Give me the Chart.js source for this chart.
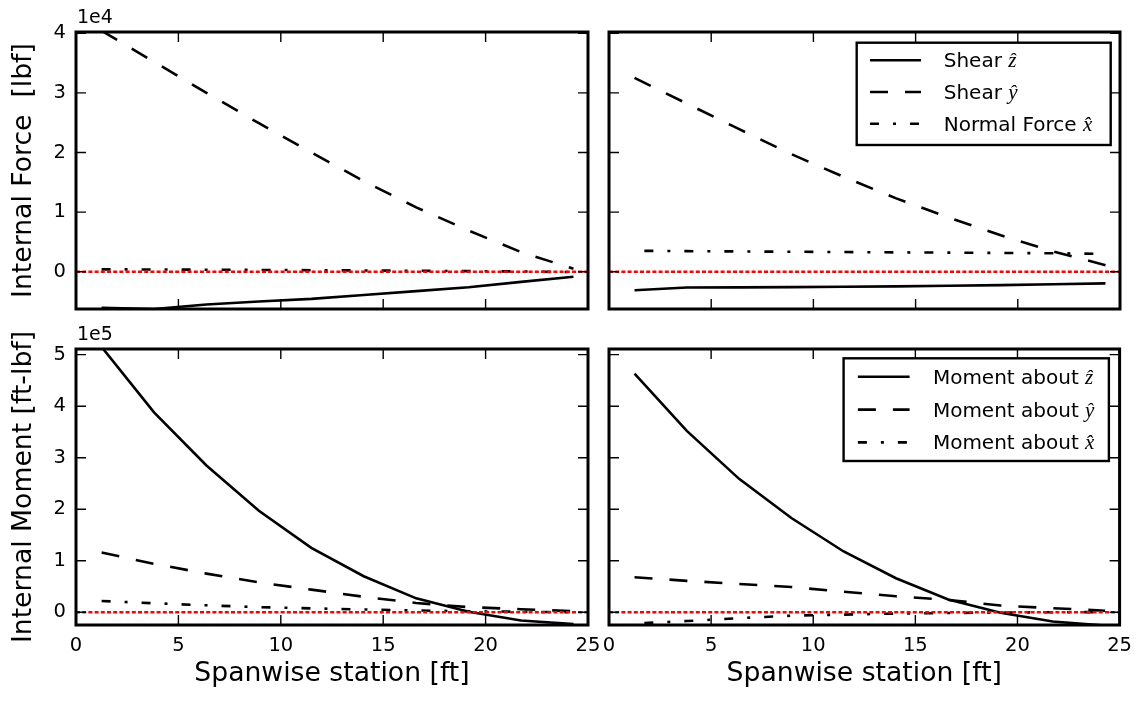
<!DOCTYPE html>
<html>
<head>
<meta charset="utf-8">
<script src="https://cdn.jsdelivr.net/npm/chart.js@4/dist/chart.umd.min.js"></script>
<style>
  html, body { margin: 0; padding: 0; background: #ffffff; }
  #wrap { position: relative; width: 1141px; height: 707px; overflow: hidden; }
  #wrap canvas { position: absolute; left: 0; top: 0; }
</style>
</head>
<body>
<div id="wrap">
  <canvas id="forceLeft" width="1141" height="707"></canvas>
  <canvas id="forceRight" width="1141" height="707"></canvas>
  <canvas id="momentLeft" width="1141" height="707"></canvas>
  <canvas id="momentRight" width="1141" height="707"></canvas>
</div>
<script>
// ---- spanwise stations [ft] ----
const stations = [1.25, 3.81, 6.37, 8.93, 11.49, 14.05, 16.61, 19.17, 21.73, 24.29];
const stationsAxial = [1.73, 3.81, 6.37, 8.93, 11.49, 14.05, 16.61, 19.17, 21.73, 24.29];
const zeroLineX = [0, 25];

// ---- internal forces [lbf], left wing ----
const shearZLeft  = [-6050, -6250, -5500, -5000, -4550, -3900, -3250, -2600, -1700, -850];
const shearYLeft  = [40400, 35200, 30000, 24900, 20000, 15200, 10800, 6900, 3300, 500];
const normalXLeft = [400, 380, 340, 300, 260, 210, 160, 100, 40, -60];

// ---- internal forces [lbf], right wing ----
const shearZRight  = [-3100, -2650, -2620, -2580, -2520, -2450, -2350, -2250, -2100, -1960];
const shearYRight  = [32500, 28200, 23900, 19700, 15900, 12300, 9100, 6100, 3400, 1100];
const normalXRight = [3500, 3450, 3400, 3350, 3300, 3250, 3200, 3150, 3100, 3000];

// ---- internal moments [ft-lbf], left wing ----
const momentZLeft = [515000, 388000, 285000, 197000, 125000, 70000, 27000, 1000, -16000, -23000];
const momentYLeft = [116000, 94000, 75000, 58000, 44000, 30000, 18000, 10000, 6000, 2000];
const momentXLeft = [22000, 17500, 13500, 10000, 7500, 5500, 3500, 2000, 1000, 0];

// ---- internal moments [ft-lbf], right wing ----
const momentZRight = [463000, 352000, 259000, 183000, 118000, 66000, 25000, -1000, -18000, -26000];
const momentYRight = [68000, 61000, 55000, 49000, 40000, 31000, 24000, 13000, 8000, 3000];
const momentXRight = [-21000, -17000, -11500, -6500, -4500, -2500, -1500, -500, 0, 500];

// ---- axes ----
const xTickValues = [0, 5, 10, 15, 20, 25];
const xTickLabels = ['0', '5', '10', '15', '20', '25'];
const forceTickValues = [0, 10000, 20000, 30000, 40000];
const forceTickLabels = ['0', '1', '2', '3', '4'];
const momentTickValues = [0, 100000, 200000, 300000, 400000, 500000];
const momentTickLabels = ['0', '1', '2', '3', '4', '5'];
const forceRange = [-6250, 40200];
const momentRange = [-24700, 511000];

const forceNames = ['Shear', 'Shear', 'Normal Force'];
const momentNames = ['Moment about', 'Moment about', 'Moment about'];
const axisSymbols = ['z', 'y', 'x'];

const SANS = "'DejaVu Sans', 'Bitstream Vera Sans', sans-serif";
const MATH = "'Liberation Serif', 'DejaVu Serif', serif";
const SOLID = [];
const DASHED = [18, 17];
const DASHDOT = [9, 14, 3, 14];
const lineStyles = [SOLID, DASHED, DASHDOT];

function series(name, sym, dash, xs, ys) {
  return {
    label: name + ' ' + sym + '\u0302',
    legendName: name,
    legendSymbol: sym,
    data: xs.map((x, i) => ({ x: x, y: ys[i] })),
    borderColor: '#000000',
    borderWidth: 2.6,
    borderDash: dash,
    borderCapStyle: 'butt',
    pointRadius: 0,
    fill: false,
    tension: 0
  };
}

function zeroLine() {
  return {
    label: 'zero',
    data: zeroLineX.map(x => ({ x: x, y: 0 })),
    borderColor: '#ff0000',
    borderWidth: 2.6,
    borderDash: [4, 2.2],
    borderCapStyle: 'butt',
    pointRadius: 0,
    fill: false
  };
}

// frame, inward ticks on all four sides, exponent text and legend
const framePlugin = {
  id: 'frame',
  afterDraw(chart, args, opts) {
    const ctx = chart.ctx;
    const { left, right, top, bottom } = chart.chartArea;
    const xs = chart.scales.x, ys = chart.scales.y;
    ctx.save();
    ctx.strokeStyle = '#000000';
    ctx.lineWidth = 1.4;
    ctx.beginPath();
    xs.ticks.forEach(t => {
      const p = xs.getPixelForValue(t.value);
      ctx.moveTo(p, top); ctx.lineTo(p, top + 10);
      ctx.moveTo(p, bottom); ctx.lineTo(p, bottom - 10);
    });
    ys.ticks.forEach(t => {
      const p = ys.getPixelForValue(t.value);
      ctx.moveTo(left, p); ctx.lineTo(left + 10, p);
      ctx.moveTo(right, p); ctx.lineTo(right - 10, p);
    });
    ctx.stroke();
    ctx.lineWidth = 3;
    ctx.strokeRect(left, top, right - left, bottom - top);

    if (opts.exponent) {
      ctx.fillStyle = '#000000';
      ctx.font = '19px ' + SANS;
      ctx.textAlign = 'left';
      ctx.textBaseline = 'alphabetic';
      ctx.fillText(opts.exponent, left + 1, top - 9);
    }

    if (opts.legend) {
      const L = opts.legend;
      const x1 = right - L.marginRight, x0 = x1 - L.width;
      const y0 = top + L.marginTop;
      ctx.fillStyle = '#ffffff';
      ctx.fillRect(x0, y0, L.width, L.height);
      ctx.lineWidth = 2.4;
      ctx.strokeStyle = '#000000';
      ctx.strokeRect(x0, y0, L.width, L.height);
      const items = chart.data.datasets.filter(d => d.legendName);
      items.forEach((d, i) => {
        const y = y0 + L.firstRow + i * L.rowGap;
        ctx.setLineDash(d.borderDash);
        ctx.lineWidth = 2.6;
        ctx.beginPath();
        ctx.moveTo(x0 + L.sampleStart, y);
        ctx.lineTo(x0 + L.sampleStart + L.sampleLen, y);
        ctx.stroke();
        ctx.setLineDash([]);
        ctx.fillStyle = '#000000';
        ctx.textAlign = 'left';
        ctx.textBaseline = 'alphabetic';
        ctx.font = '20px ' + SANS;
        const txt = d.legendName + ' ';
        ctx.fillText(txt, x0 + L.textStart, y + 7);
        const w = ctx.measureText(txt).width;
        ctx.font = 'italic 21px ' + MATH;
        ctx.fillText(d.legendSymbol + '\u0302', x0 + L.textStart + w, y + 7);
      });
    }
    ctx.restore();
  }
};

function panel(id, cfg) {
  const showY = cfg.showY, showX = cfg.showX;
  new Chart(document.getElementById(id), {
    type: 'line',
    data: { datasets: cfg.datasets },
    plugins: [framePlugin],
    options: {
      responsive: false,
      animation: false,
      events: [],
      layout: { padding: cfg.padding },
      plugins: {
        legend: { display: false },
        tooltip: { enabled: false },
        frame: { exponent: cfg.exponent, legend: cfg.legend }
      },
      scales: {
        x: {
          type: 'linear',
          min: 0, max: 25,
          afterBuildTicks: s => { s.ticks = xTickValues.map(v => ({ value: v })); },
          afterFit: s => { s.height = showX ? 82 : 0; },
          grid: { display: false, drawTicks: false },
          border: { display: false },
          ticks: {
            display: showX,
            autoSkip: false,
            maxRotation: 0,
            padding: 9,
            color: '#000000',
            font: { family: SANS, size: 19.5 },
            callback: (v, i) => xTickLabels[i]
          },
          title: {
            display: showX,
            text: 'Spanwise station [ft]',
            color: '#000000',
            font: { family: SANS, size: 26.67 },
            padding: { top: 0, bottom: 17 }
          }
        },
        y: {
          type: 'linear',
          min: cfg.range[0], max: cfg.range[1],
          afterBuildTicks: s => { s.ticks = cfg.tickValues.map(v => ({ value: v })); },
          afterFit: s => { s.width = showY ? 76 : 0; },
          grid: { display: false, drawTicks: false },
          border: { display: false },
          ticks: {
            display: showY,
            autoSkip: false,
            padding: 10,
            color: '#000000',
            font: { family: SANS, size: 19.5 },
            callback: (v, i) => cfg.tickLabels[i]
          },
          title: {
            display: showY,
            text: cfg.yTitle || '',
            color: '#000000',
            font: { family: SANS, size: 26.67 },
            padding: { top: 8, bottom: 0 }
          }
        }
      }
    }
  });
}

const forceLegend = { marginRight: 9.3, marginTop: 10.7, width: 254, height: 102.3,
  firstRow: 17.5, rowGap: 31.8, sampleStart: 13.3, sampleLen: 51, textStart: 87 };
const momentLegend = { marginRight: 10.7, marginTop: 9.3, width: 265.3, height: 102.7,
  firstRow: 18.5, rowGap: 32.8, sampleStart: 14.3, sampleLen: 51.7, textStart: 89.3 };

panel('forceLeft', {
  showX: false, showY: true, exponent: '1e4',
  yTitle: 'Internal Force  [lbf]',
  range: forceRange, tickValues: forceTickValues, tickLabels: forceTickLabels,
  padding: { left: 0, top: 32, right: 553, bottom: 398 },
  datasets: [
    zeroLine(),
    series(forceNames[0], axisSymbols[0], lineStyles[0], stations, shearZLeft),
    series(forceNames[1], axisSymbols[1], lineStyles[1], stations, shearYLeft),
    series(forceNames[2], axisSymbols[2], lineStyles[2], stations, normalXLeft)
  ]
});

panel('forceRight', {
  showX: false, showY: false, legend: forceLegend,
  range: forceRange, tickValues: forceTickValues, tickLabels: forceTickLabels,
  padding: { left: 609, top: 32, right: 21, bottom: 398 },
  datasets: [
    zeroLine(),
    series(forceNames[0], axisSymbols[0], lineStyles[0], stations, shearZRight),
    series(forceNames[1], axisSymbols[1], lineStyles[1], stations, shearYRight),
    series(forceNames[2], axisSymbols[2], lineStyles[2], stationsAxial, normalXRight)
  ]
});

panel('momentLeft', {
  showX: true, showY: true, exponent: '1e5',
  yTitle: 'Internal Moment [ft-lbf]',
  range: momentRange, tickValues: momentTickValues, tickLabels: momentTickLabels,
  padding: { left: 0, top: 349, right: 553, bottom: 0 },
  datasets: [
    zeroLine(),
    series(momentNames[0], axisSymbols[0], lineStyles[0], stations, momentZLeft),
    series(momentNames[1], axisSymbols[1], lineStyles[1], stations, momentYLeft),
    series(momentNames[2], axisSymbols[2], lineStyles[2], stations, momentXLeft)
  ]
});

panel('momentRight', {
  showX: true, showY: false, legend: momentLegend,
  range: momentRange, tickValues: momentTickValues, tickLabels: momentTickLabels,
  padding: { left: 609, top: 349, right: 21, bottom: 0 },
  datasets: [
    zeroLine(),
    series(momentNames[0], axisSymbols[0], lineStyles[0], stations, momentZRight),
    series(momentNames[1], axisSymbols[1], lineStyles[1], stations, momentYRight),
    series(momentNames[2], axisSymbols[2], lineStyles[2], stationsAxial, momentXRight)
  ]
});
</script>
</body>
</html>
